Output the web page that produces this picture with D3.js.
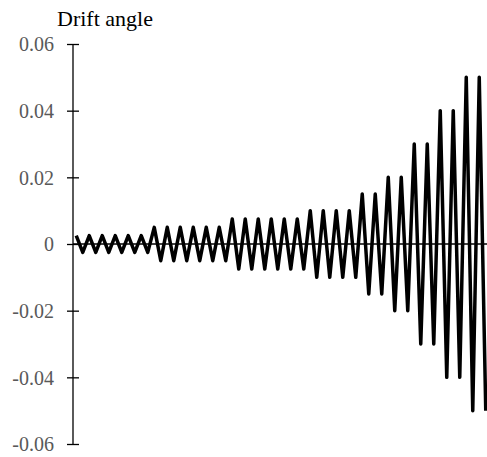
<!DOCTYPE html>
<html>
<head>
<meta charset="utf-8">
<script src="https://cdn.jsdelivr.net/npm/d3@7"></script>
<style>
  body { margin: 0; background: #fff; }
  svg { display: block; }
</style>
</head>
<body>
<div class="chart"></div>
<script>
// loading protocol: amplitude per step and number of cycles at that step
const amplitudes = [0.0025, 0.005, 0.0075, 0.01, 0.015, 0.02, 0.03, 0.04, 0.05];
const cycles = [6, 6, 6, 4, 2, 2, 2, 2, 2];
const yTicks = [-0.06, -0.04, -0.02, 0, 0.02, 0.04, 0.06];
const yTickLabels = ["-0.06", "-0.04", "-0.02", "0", "0.02", "0.04", "0.06"];
const yTitle = "Drift angle";

// each cycle is a positive then a negative peak
let drift = [];
amplitudes.forEach((a, i) => {
    for (let c = 0; c < cycles[i]; c++) {
        drift.push(a);
        drift.push(-a);
    }
});

const width = 487, height = 457;
const margin = {top: 44, right: -2, bottom: 13, left: 73};
const serif = "'Liberation Serif', 'Times New Roman', serif";

const svg = d3.select(".chart").append("svg")
    .attr("width", width)
    .attr("height", height);

const x = d3.scaleBand()
    .domain(d3.range(drift.length))
    .range([margin.left, width - margin.right]);

const y = d3.scaleLinear()
    .domain([-0.06, 0.06])
    .range([height - margin.bottom, margin.top]);

// y axis with crossing ticks
const yAxis = svg.append("g")
    .attr("transform", "translate(" + margin.left + ",0)")
    .call(d3.axisLeft(y)
        .tickValues(yTicks)
        .tickFormat((d, i) => yTickLabels[i])
        .tickSize(6)
        .tickPadding(13));

yAxis.select(".domain").remove();
yAxis.append("line")
    .attr("y1", y(0.06))
    .attr("y2", y(-0.06))
    .attr("stroke", "#000")
    .attr("stroke-width", 1.3);
yAxis.selectAll(".tick line")
    .attr("x1", -6)
    .attr("x2", 6)
    .attr("stroke", "#000")
    .attr("stroke-width", 1.3);
yAxis.selectAll(".tick text")
    .attr("fill", "#595959")
    .attr("dy", "0.34em")
    .style("font-family", serif)
    .style("font-size", "20px");

// horizontal axis at zero
svg.append("line")
    .attr("x1", margin.left)
    .attr("x2", width)
    .attr("y1", y(0))
    .attr("y2", y(0))
    .attr("stroke", "#000")
    .attr("stroke-width", 1.3);

const line = d3.line()
    .x((d, i) => x(i) + x.bandwidth() / 2)
    .y(d => y(d));

svg.append("path")
    .datum(drift)
    .attr("d", line)
    .attr("fill", "none")
    .attr("stroke", "#000")
    .attr("stroke-width", 3.5)
    .attr("stroke-linejoin", "round");

svg.append("text")
    .attr("x", 57)
    .attr("y", 26)
    .attr("fill", "#000")
    .style("font-family", serif)
    .style("font-size", "22px")
    .text(yTitle);
</script>
</body>
</html>
